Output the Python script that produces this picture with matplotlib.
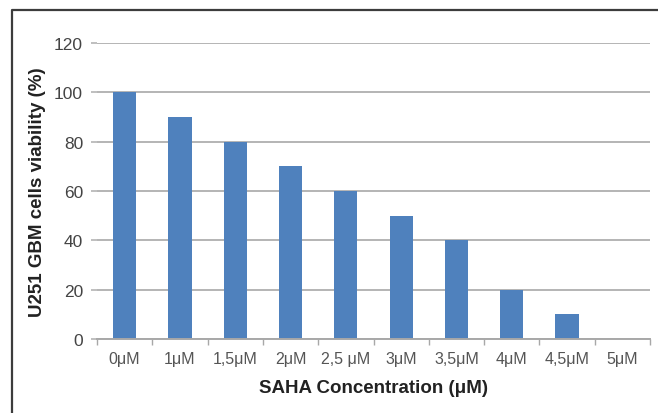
import matplotlib
matplotlib.use("Agg")
import matplotlib.pyplot as plt
from matplotlib.lines import Line2D

# SAHA dose series and measured viability
concentrations = ['0μM', '1μM', '1,5μM', '2μM', '2,5 μM', '3μM', '3,5μM', '4μM', '4,5μM', '5μM']
viability = [100, 90, 80, 70, 60, 50, 40, 20, 10, 0]
y_ticks = [0, 20, 40, 60, 80, 100, 120]

plt.rcParams['font.family'] = ['Liberation Sans', 'DejaVu Sans']

W, H = 658, 414
fig = plt.figure(figsize=(W / 100, H / 100), dpi=100)
fig.patch.set_facecolor('white')

# Outer frame: left and top edges of the chart border
fx, fy = 11.5 / W, 1 - 10.5 / H
fig.lines.append(Line2D([fx, fx, 1.01], [-0.01, fy, fy], transform=fig.transFigure,
                        color='#3c3c3c', linewidth=1.6))

ax = fig.add_axes([97 / W, (H - 340) / H, (650 - 97) / W, (340 - 44) / H])
x = list(range(len(concentrations)))
ax.bar(x, viability, width=0.42, color='#4f81bd', zorder=3)

ax.set_xlim(-0.5, len(concentrations) - 0.5)
ax.set_ylim(0, 120)
ax.set_yticks(y_ticks)
ax.set_yticklabels([str(t) for t in y_ticks])
ax.yaxis.grid(True, color='#b4b4b4', linewidth=1.4, zorder=0)

# Category labels centered on bars; tick marks between categories
ax.set_xticks(x)
ax.set_xticklabels(concentrations)
ax.set_xticks([i - 0.5 for i in range(len(concentrations) + 1)], minor=True)
ax.tick_params(axis='x', which='major', length=0, pad=9, labelsize=11.5, labelcolor='#555555')
ax.tick_params(axis='x', which='minor', length=4, color='#a8a8a8', width=1)
ax.tick_params(axis='y', length=4, color='#b4b4b4', width=1.2, pad=6,
               labelsize=12.5, labelcolor='#444444')

for side in ['top', 'right', 'left']:
    ax.spines[side].set_visible(False)
ax.spines['bottom'].set_color('#a8a8a8')
ax.spines['bottom'].set_linewidth(1.4)
ax.spines['bottom'].set_zorder(4)

ax.set_xlabel('SAHA Concentration (μM)', fontsize=13.5, fontweight='bold',
              color='#222222', labelpad=9)
ax.set_ylabel('U251 GBM cells viability (%)', fontsize=13.5, fontweight='bold',
              color='#222222', labelpad=6)

fig.savefig('out.png', dpi=100, facecolor='white')
